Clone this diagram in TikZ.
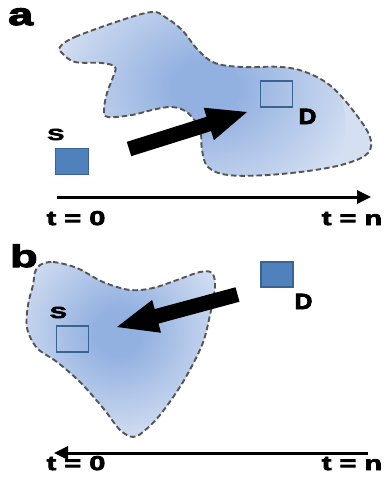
\documentclass[tikz,border=0pt]{standalone}
\usepackage{fontspec}
\newfontfamily\labT[FakeStretch=1.45,BoldFeatures={FakeBold=4}]{Liberation Sans}
\newfontfamily\labD[FakeStretch=1.12,BoldFeatures={FakeBold=4}]{Liberation Sans}
\newfontfamily\labS[FakeStretch=1.6,BoldFeatures={FakeBold=4}]{Liberation Sans}
\usetikzlibrary{calc,arrows.meta}
\definecolor{blobdark}{RGB}{146,176,224}
\definecolor{blobedge}{RGB}{212,223,242}
\definecolor{sqfill}{RGB}{79,129,189}
\definecolor{sqline}{RGB}{58,99,148}
\definecolor{outl}{RGB}{85,85,85}
\pgfdeclareradialshading{blobshade}{\pgfpoint{0bp}{0bp}}{color(0bp)=(blobdark); color(5bp)=(blobdark); color(25bp)=(blobedge); color(50bp)=(blobedge)}
\tikzset{
  outline/.style={draw=outl, line width=1.9pt, dash pattern=on 5.5pt off 3pt},
  fullsq/.style={draw=sqline, fill=sqfill, line width=1.2pt},
  emptysq/.style={draw=sqline, line width=1.3pt},
  timeline/.style={line width=3pt, -{Triangle[length=14pt,width=13pt]}},
  txt/.style={font=\labT\bfseries\fontsize{20}{20}\selectfont, inner sep=0pt, anchor=base},
  dlab/.style={font=\labD\bfseries\fontsize{22}{22}\selectfont, inner sep=0pt, anchor=base},
  slab/.style={font=\labS\bfseries\fontsize{16}{16}\selectfont, inner sep=0pt, anchor=base},
  panel/.style={font=\labT\bfseries\fontsize{31}{31}\selectfont, inner sep=0pt, anchor=base west},
}
\begin{document}
\begin{tikzpicture}[x=1pt,y=-1pt]
\useasboundingbox (0,0) rectangle (387,485);
% ---------------- panel a ----------------
\node[panel] (la) at (8,25) {a};
\def\blobA{plot[smooth cycle, tension=0.6] coordinates {(60,47) (75,37) (122,20) (152,12) (165,17) (182,30) (198,50) (215,63) (242,67) (282,67) (308,73) (332,87) (355,113) (370,137) (368,153) (348,163) (315,170) (268,175) (228,175) (208,167) (202,150) (200,130) (188,113) (172,107) (152,110) (132,115) (108,117) (104,110) (107,93) (113,77) (115,67) (102,63) (75,62) (62,53)}}
\fill[blobedge] \blobA;
\begin{scope}
\clip \blobA;
\shade[shading=blobshade, rotate around={-28:(205,88)}] (205,88) ellipse (150 and 100);
\end{scope}
\draw[outline] \blobA;
\node[emptysq, minimum width=32pt, minimum height=26pt, inner sep=0pt] (Da) at (276.5,94) {};
\node[dlab] (Dlab) at (307.5,124) {D};
\node[slab] (Slab) at (55.8,140) {S};
\node[fullsq, minimum width=33pt, minimum height=26pt, inner sep=0pt] (Sa) at (72,161.5) {};
% big arrow a
\coordinate (Ta) at (129,149);
\coordinate (Pa) at (247,112);
\coordinate (Ba) at ($(Pa)!40pt!(Ta)$);
\fill ($(Ta)!7.5pt!-90:(Pa)$) -- ($(Ba)!7.5pt!-90:(Pa)$) -- ($(Ba)!17pt!-90:(Pa)$) -- (Pa)
  -- ($(Ba)!17pt!90:(Pa)$) -- ($(Ba)!7.5pt!90:(Pa)$) -- ($(Ta)!7.5pt!90:(Pa)$) -- cycle;
% timeline a
\coordinate (a0) at (57,197);
\coordinate (an) at (371,197);
\draw[timeline] (a0) -- (an);
\node[txt] (t0a) at (76,225) {t = 0};
\node[txt] (tna) at (352,225) {t = n};
% ---------------- panel b ----------------
\node[panel] (lb) at (10,267) {b};
\def\blobB{plot[smooth cycle, tension=0.55] coordinates {(40,265) (53,262) (77,268) (103,282) (130,290) (153,288) (177,280) (200,272) (212,273) (215,287) (210,315) (202,345) (183,382) (160,415) (143,432) (133,437) (120,430) (103,408) (80,382) (57,362) (37,348) (27,328) (28,305) (33,285) (35,272)}}
\fill[blobedge] \blobB;
\begin{scope}
\clip \blobB;
\shade[shading=blobshade] (118,332) ellipse (115 and 110);
\end{scope}
\draw[outline] \blobB;
\node[emptysq, minimum width=32pt, minimum height=26pt, inner sep=0pt] (Sb) at (72.5,339) {};
\node[slab] (Slb) at (58.3,318) {S};
\node[fullsq, minimum width=32pt, minimum height=25pt, inner sep=0pt] (Db) at (277,274.5) {};
\node[dlab] (Dlb) at (303.5,309) {D};
% big arrow b
\coordinate (Tb) at (237.5,294.5);
\coordinate (Pb) at (117,327);
\coordinate (Bb) at ($(Pb)!41pt!(Tb)$);
\fill ($(Tb)!7.5pt!-90:(Pb)$) -- ($(Bb)!7.5pt!-90:(Pb)$) -- ($(Bb)!17pt!-90:(Pb)$) -- (Pb)
  -- ($(Bb)!17pt!90:(Pb)$) -- ($(Bb)!7.5pt!90:(Pb)$) -- ($(Tb)!7.5pt!90:(Pb)$) -- cycle;
% timeline b
\coordinate (bn) at (368,453);
\coordinate (b0) at (54,453);
\draw[timeline] (bn) -- (b0);
\node[txt] (t0b) at (76,470) {t = 0};
\node[txt] (tnb) at (352,470) {t = n};
\end{tikzpicture}
\end{document}
